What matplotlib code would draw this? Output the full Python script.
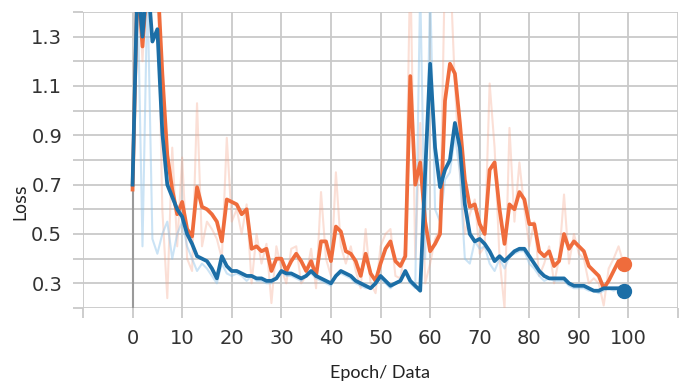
import numpy as np
import matplotlib
matplotlib.use("Agg")
from matplotlib import pyplot as plt

# epochs and loss values
epochs = np.arange(100)

orange_smooth = [0.68, 1.55, 1.26, 1.55, 1.50, 1.55, 1.15, 0.82, 0.68, 0.58,
                 0.63, 0.52, 0.49, 0.69, 0.61, 0.60, 0.58, 0.55, 0.47, 0.64,
                 0.63, 0.62, 0.58, 0.60, 0.44, 0.45, 0.43, 0.44, 0.35, 0.40,
                 0.40, 0.35, 0.39, 0.42, 0.39, 0.35, 0.39, 0.33, 0.47, 0.47,
                 0.39, 0.53, 0.51, 0.43, 0.42, 0.39, 0.33, 0.42, 0.34, 0.31,
                 0.38, 0.44, 0.47, 0.39, 0.37, 0.41, 1.14, 0.70, 0.79, 0.55,
                 0.43, 0.46, 0.50, 1.04, 1.19, 1.15, 0.95, 0.72, 0.61, 0.62,
                 0.54, 0.50, 0.76, 0.79, 0.60, 0.46, 0.62, 0.60, 0.67, 0.64,
                 0.54, 0.54, 0.43, 0.41, 0.43, 0.37, 0.39, 0.50, 0.44, 0.47,
                 0.45, 0.43, 0.37, 0.35, 0.33, 0.28, 0.31, 0.35, 0.39, 0.38]

blue_smooth = [0.70, 1.55, 1.30, 1.55, 1.28, 1.33, 0.91, 0.70, 0.65, 0.60,
               0.57, 0.50, 0.46, 0.41, 0.40, 0.39, 0.36, 0.32, 0.41, 0.37,
               0.35, 0.35, 0.34, 0.33, 0.33, 0.32, 0.32, 0.31, 0.31, 0.32,
               0.35, 0.34, 0.34, 0.33, 0.32, 0.33, 0.35, 0.33, 0.32, 0.31,
               0.30, 0.33, 0.35, 0.34, 0.33, 0.31, 0.30, 0.29, 0.28, 0.30,
               0.33, 0.31, 0.29, 0.30, 0.31, 0.35, 0.31, 0.29, 0.27, 0.75,
               1.19, 0.85, 0.69, 0.76, 0.80, 0.95, 0.85, 0.62, 0.50, 0.47,
               0.48, 0.46, 0.43, 0.39, 0.41, 0.39, 0.41, 0.43, 0.44, 0.44,
               0.41, 0.38, 0.35, 0.33, 0.32, 0.32, 0.32, 0.32, 0.30, 0.29,
               0.29, 0.29, 0.28, 0.27, 0.27, 0.28, 0.28, 0.28, 0.28, 0.27]

orange_raw = [0.68, 1.60, 1.20, 1.60, 1.45, 1.60, 0.60, 0.24, 0.85, 0.45,
              0.81, 0.40, 0.35, 1.03, 0.45, 0.55, 0.52, 0.48, 0.40, 0.89,
              0.55, 0.60, 0.50, 0.62, 0.30, 0.50, 0.38, 0.46, 0.22, 0.45,
              0.36, 0.30, 0.44, 0.45, 0.30, 0.33, 0.44, 0.28, 0.67, 0.40,
              0.33, 0.75, 0.45, 0.38, 0.45, 0.35, 0.28, 0.52, 0.30, 0.26,
              0.45, 0.50, 0.52, 0.33, 0.32, 0.45, 1.60, 0.40, 0.95, 0.30,
              0.38, 0.48, 0.52, 1.60, 1.60, 1.10, 0.75, 0.50, 0.58, 0.64,
              0.42, 0.45, 1.11, 0.85, 0.40, 0.20, 0.93, 0.55, 0.79, 0.60,
              0.45, 0.55, 0.33, 0.38, 0.45, 0.30, 0.40, 0.66, 0.38, 0.50,
              0.42, 0.40, 0.30, 0.32, 0.30, 0.21, 0.36, 0.40, 0.45, 0.38]

blue_raw = [0.70, 1.50, 0.45, 1.50, 0.48, 0.42, 0.50, 0.55, 0.40, 0.50,
            0.55, 0.45, 0.40, 0.35, 0.38, 0.36, 0.33, 0.30, 0.38, 0.34,
            0.33, 0.34, 0.33, 0.31, 0.33, 0.31, 0.31, 0.30, 0.30, 0.32,
            0.35, 0.33, 0.33, 0.32, 0.31, 0.33, 0.34, 0.32, 0.31, 0.30,
            0.29, 0.33, 0.34, 0.33, 0.32, 0.30, 0.29, 0.28, 0.28, 0.30,
            0.32, 0.30, 0.28, 0.30, 0.31, 0.34, 0.30, 0.28, 1.50, 0.40,
            1.50, 0.60, 0.55, 0.72, 0.75, 0.90, 0.75, 0.40, 0.38, 0.47,
            0.44, 0.45, 0.38, 0.35, 0.40, 0.36, 0.41, 0.42, 0.43, 0.43,
            0.38, 0.36, 0.33, 0.31, 0.32, 0.31, 0.31, 0.31, 0.29, 0.28,
            0.28, 0.28, 0.27, 0.27, 0.26, 0.27, 0.28, 0.27, 0.28, 0.27]

# gray start segment at epoch 0
start_x = [0, 0]
start_y = [0.2, 0.68]

xticks = np.arange(-10, 111, 10)
xlabels = ["" if (t < 0 or t > 100) else str(t) for t in xticks]
yticks = np.round(np.arange(0.2, 1.41, 0.1), 1)
ylabels = [("%.1f" % t) if (round(t * 10) % 2 == 1) else "" for t in yticks]

ORANGE = "#ef6c3c"
BLUE = "#1c6ea6"

fig = plt.figure(figsize=(6.88, 3.85), dpi=100)
ax = fig.add_axes([0.1206, 0.2, 0.865, 0.769])

ax.plot(epochs, orange_raw, color="#f4a58a", alpha=0.35, lw=1.5)
ax.plot(epochs, blue_raw, color="#8cc3ea", alpha=0.45, lw=1.5)
ax.plot(start_x, start_y, color="#9a9a9a", lw=1.5)
ax.plot(epochs, orange_smooth, color=ORANGE, lw=2.7)
ax.plot(epochs, blue_smooth, color=BLUE, lw=2.7)
ax.plot(epochs[-1], orange_smooth[-1], "o", color=ORANGE, ms=10)
ax.plot(epochs[-1], blue_smooth[-1], "o", color=BLUE, ms=10)

ax.set_xlim(-10, 110)
ax.set_ylim(0.2, 1.4)
ax.set_xticks(xticks)
ax.set_xticklabels(xlabels)
ax.set_yticks(yticks)
ax.set_yticklabels(ylabels)
ax.grid(True, color="#c9c9c9", lw=1.3)
ax.set_axisbelow(True)
for s in ax.spines.values():
    s.set_visible(False)
ax.tick_params(axis="both", color="#c9c9c9", width=1.3, length=7,
               labelsize=14, labelcolor="#333333", pad=8)

fig.text(0.03, 0.475, "Loss", rotation=90, ha="center", va="center",
         fontsize=12, color="#222222")
fig.text(0.553, 0.03, "Epoch/ Data", ha="center", va="center",
         fontsize=13, family="Lato", color="#222222")

fig.savefig("out.png", dpi=100)
